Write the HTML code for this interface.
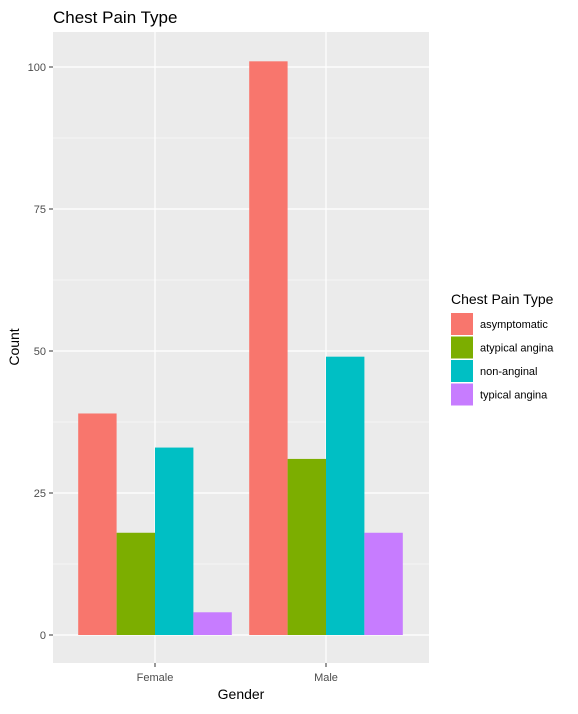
<!DOCTYPE html>
<html><head><meta charset="utf-8"><style>
body{margin:0;background:#fff;font-family:"Liberation Sans",Arial,sans-serif}
svg text{font-family:"Liberation Sans",Arial,sans-serif}
</style></head><body>
<svg id="c" width="578" height="709">
<text x="53" y="23" font-size="17" fill="#000">Chest Pain Type</text>
<rect x="53" y="32" width="376" height="631" fill="#EBEBEB"/>
<g id="grid"></g><g id="bars"></g><g id="axes"></g>
<text x="241" y="699" font-size="14" text-anchor="middle">Gender</text>
<text transform="translate(19,347) rotate(-90)" font-size="14" text-anchor="middle">Count</text>
<g id="legend">
<text x="451" y="304" font-size="14">Chest Pain Type</text>
</g>
</svg>
<script>
const categories=["Female","Male"];
const series=["asymptomatic","atypical angina","non-anginal","typical angina"];
const colors=["#F8766D","#7CAE00","#00BFC4","#C77CFF"];
const asymptomatic=[39,101];
const atypical=[18,31];
const nonanginal=[33,49];
const typical=[4,18];
const yTicks=[0,25,50,75,100];
const values=[asymptomatic,atypical,nonanginal,typical];
const NS="http://www.w3.org/2000/svg";
const y0=635, pxPer=5.68;
const y=v=>y0-v*pxPer;
const xc=i=>155+i*171;
const bw=38.4;
function mk(t,a,p){const e=document.createElementNS(NS,t);for(const k in a)e.setAttribute(k,a[k]);p.appendChild(e);return e;}
const grid=document.getElementById('grid'),bars=document.getElementById('bars'),axes=document.getElementById('axes'),leg=document.getElementById('legend');
for(let k=0;k<yTicks.length-1;k++){const v=(yTicks[k]+yTicks[k+1])/2;
const l=mk('line',{x1:53,x2:429,y1:y(v),y2:y(v),stroke:'#fff','stroke-width':0.6},grid);

}
yTicks.forEach(v=>{
const l=mk('line',{x1:53,x2:429,y1:y(v),y2:y(v),stroke:'#fff','stroke-width':1.2},grid);


mk('line',{x1:49,x2:53,y1:y(v),y2:y(v),stroke:'#333'},axes);
const t=mk('text',{x:46,y:y(v)+4,'font-size':11,fill:'#4D4D4D','text-anchor':'end'},axes);t.textContent=v;

});
categories.forEach((c,i)=>{
const l=mk('line',{x1:xc(i),x2:xc(i),y1:32,y2:663,stroke:'#fff','stroke-width':1.2},grid);


mk('line',{x1:xc(i),x2:xc(i),y1:663,y2:667,stroke:'#333'},axes);
const t=mk('text',{x:xc(i),y:681,'font-size':11,fill:'#4D4D4D','text-anchor':'middle'},axes);t.textContent=c;


values.forEach((arr,s)=>{
const x=xc(i)-2*bw+s*bw;
const r=mk('rect',{x:x,y:y(arr[i]),width:bw,height:arr[i]*pxPer,fill:colors[s]},bars);

});});
series.forEach((s,k)=>{
const yy=313+k*23.5;
const r=mk('rect',{x:451,y:yy,width:22,height:22,fill:colors[k]},leg);


const t=mk('text',{x:480,y:yy+15,'font-size':11,fill:'#000'},leg);t.textContent=s;

});
</script>
</body></html>
